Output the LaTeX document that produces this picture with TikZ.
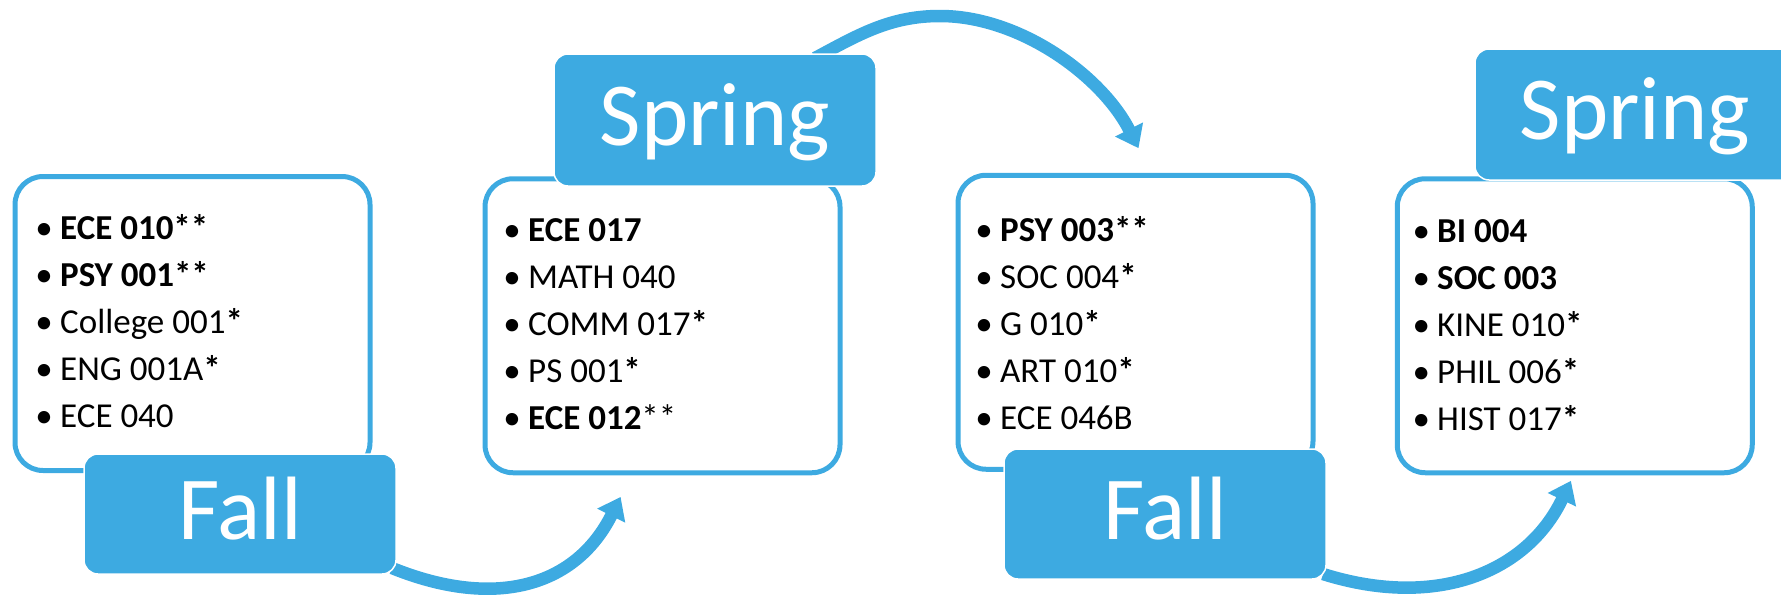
\documentclass[tikz,border=0pt]{standalone}
\usepackage{fontspec}
\setmainfont{Carlito}
\usetikzlibrary{arrows.meta}
\definecolor{sblue}{HTML}{3DAAE1}
\newcommand\courselist[4]{%
  \foreach \t [count=\i] in {#4}{%
    \node[courseline] (#1-\i) at (#2,{#3+(\i-1)*47}) {\llap{\makebox[32pt]{•}}\t};
  }%
}
\tikzset{
  coursebox/.style={rectangle, rounded corners=28pt, draw=sblue, fill=white, line width=5pt,
    minimum width=355pt, minimum height=294pt, inner sep=0pt},
  seasonbox/.style={rectangle, rounded corners=14pt, fill=sblue, draw=white, line width=1.5pt,
    inner sep=0pt, text=white, font=\fontsize{90}{100}\selectfont, text height=60pt, text depth=10pt},
  courseline/.style={anchor=base west, inner sep=0pt, text=black, font=\fontsize{35}{42}\selectfont},
  flowarrow/.style={draw=sblue, line width=12.5pt, -{Triangle[length=21pt 0 0, width=30pt 0 0]}}
}
\begin{document}
\begin{tikzpicture}[x=1pt,y=-1pt]
\useasboundingbox (0,0) rectangle (1781,595);
\clip (0,0) rectangle (1781,595);
% arrow end points
\coordinate (a1s) at (392,568);
\coordinate (a1e) at (620.6,496.9);
\coordinate (a2s) at (815,58);
\coordinate (a2m) at (940,16);
\coordinate (a2e) at (1138.5,148.2);
\coordinate (a3s) at (1323,574);
\coordinate (a3e) at (1570.9,480.8);
% arrows
\draw[flowarrow] (a1s) .. controls (494,609.3) and (575.2,587.5) .. (a1e);
\draw[flowarrow] (a2s) .. controls (859,34.5) and (890,16) .. (a2m)
                       .. controls (1020,16) and (1102,76.1) .. (a2e);
\draw[flowarrow] (a3s) .. controls (1437.5,610) and (1527.6,571.5) .. (a3e);
% course boxes
\node[coursebox] (box1) at (192.5,323.5) {};
\node[coursebox] (box2) at (662.5,325.75) {};
\node[coursebox] (box3) at (1135.5,322.25) {};
\node[coursebox] (box4) at (1574.75,325.75) {};
% season boxes
\node[seasonbox, minimum width=312pt, minimum height=120pt] (fall1) at (240,514) {Fall};
\node[seasonbox, minimum width=322pt, minimum height=132pt] (spring1) at (715,120) {Spring};
\node[seasonbox, minimum width=322pt, minimum height=130pt] (fall2) at (1165,514) {Fall};
\node[seasonbox, minimum width=320pt, minimum height=131pt] (spring2) at (1635,114.5) {Spring};
% course lists
\courselist{c1}{60}{239}{{\textbf{ECE 010**}},{\textbf{PSY 001**}},{College 001\textbf{*}},{ENG 001A\textbf{*}},{ECE 040}}
\courselist{c2}{528}{241}{{\textbf{ECE 017}},{MATH 040},{COMM 017\textbf{*}},{PS 001\textbf{*}},{\textbf{ECE 012}**}}
\courselist{c3}{1000}{241}{{\textbf{PSY 003**}},{SOC 004\textbf{*}},{G 010\textbf{*}},{ART 010\textbf{*}},{ECE 046B}}
\courselist{c4}{1437}{242}{{\textbf{BI 004}},{\textbf{SOC 003}},{KINE 010\textbf{*}},{PHIL 006\textbf{*}},{HIST 017\textbf{*}}}
\end{tikzpicture}
\end{document}
